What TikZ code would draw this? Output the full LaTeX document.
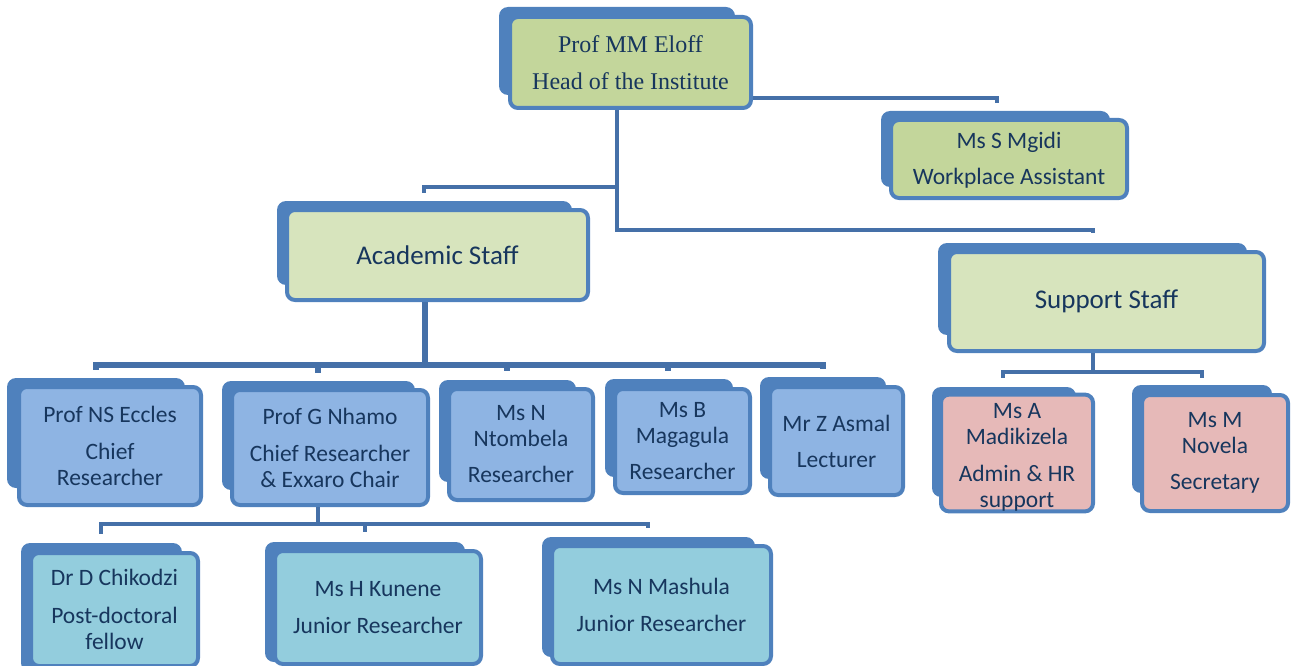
\documentclass[tikz,border=0pt]{standalone}
\usepackage{fontspec}
\setmainfont{Carlito}
\newfontfamily\timesf{Liberation Serif}
\usetikzlibrary{calc}
\definecolor{bord}{HTML}{4F81BD}
\definecolor{conncol}{HTML}{4570A8}
\definecolor{txt}{HTML}{17365D}
\definecolor{gdark}{HTML}{C3D69B}
\definecolor{glight}{HTML}{D7E4BD}
\definecolor{bluef}{HTML}{8EB4E3}
\definecolor{pinkf}{HTML}{E6B9B8}
\definecolor{cyanf}{HTML}{93CDDD}
\tikzset{
  backbox/.style={fill=bord, rounded corners=9pt},
  frontbox/.style={draw=bord, line width=4pt, rounded corners=8pt, align=center,
    text=txt, inner sep=0pt, font=\fontsize{23.5}{26}\selectfont},
  conn/.style={draw=conncol, line width=4pt},
  connthick/.style={draw=conncol, line width=5.5pt}
}
\begin{document}
\begin{tikzpicture}[x=1pt,y=-1pt]
\useasboundingbox (0,0) rectangle (1293,666);
\clip (0,0) rectangle (1293,666);
% back boxes
\fill[backbox] (499,7) rectangle (735,95);
\fill[backbox] (881,111) rectangle (1110,187);
\fill[backbox] (277,201) rectangle (572,285);
\fill[backbox] (938,243) rectangle (1247,335);
\fill[backbox] (7,378) rectangle (185,488);
\fill[backbox] (222,381) rectangle (415,490);
\fill[backbox] (439,380) rectangle (576,482);
\fill[backbox] (605,379) rectangle (733,477);
\fill[backbox] (760,377) rectangle (886,479);
\fill[backbox] (932,387) rectangle (1076,497);
\fill[backbox] (1132,385) rectangle (1272,493);
\fill[backbox] (21,543) rectangle (182,672);
\fill[backbox] (265,542) rectangle (465,662);
\fill[backbox] (542,537) rectangle (755,657);
% front boxes
\node[frontbox, fill=gdark, minimum width=241pt, minimum height=91pt,
  font=\timesf\fontsize{24}{37}\selectfont] (eloff) at (630.5,62.5)
  {Prof MM Eloff\\Head of the Institute};
\node[frontbox, fill=gdark, minimum width=236pt, minimum height=78pt,
  font=\fontsize{23.5}{36}\selectfont, text depth=2pt] (mgidi) at (1009,159)
  {Ms S Mgidi\\Workplace Assistant\vphantom{g}\rule[-6pt]{0pt}{1pt}};
\node[frontbox, fill=glight, minimum width=301pt, minimum height=90pt,
  font=\fontsize{27}{30}\selectfont] (acad) at (437.5,255) {Academic Staff};
\node[frontbox, fill=glight, minimum width=315pt, minimum height=99pt,
  font=\fontsize{27}{30}\selectfont] (supp) at (1106.5,301.5) {Support Staff};
\node[frontbox, fill=bluef, minimum width=182pt, minimum height=118pt] (eccles) at (110,446)
  {Prof NS Eccles\\[11pt]Chief\\Researcher};
\node[frontbox, fill=bluef, minimum width=196pt, minimum height=115pt] (nhamo) at (330,447.5)
  {Prof G Nhamo\\[11pt]Chief Researcher\\\& Exxaro Chair};
\node[frontbox, fill=bluef, minimum width=144pt, minimum height=111pt] (ntombela) at (521,444.5)
  {Ms N\\Ntombela\\[10pt]Researcher};
\node[frontbox, fill=bluef, minimum width=135pt, minimum height=104pt] (magagula) at (682.5,441)
  {Ms B\\Magagula\\[10pt]Researcher};
\node[frontbox, fill=bluef, minimum width=133pt, minimum height=108pt,
  font=\fontsize{23.5}{36}\selectfont] (asmal) at (836.5,441)
  {Mr Z Asmal\\Lecturer};
\node[frontbox, fill=pinkf, minimum width=152pt, minimum height=116pt] (madik) at (1017,453)
  {\rule{0pt}{24pt}Ms A\\Madikizela\\[11pt]Admin \& HR\\support};
\node[frontbox, fill=pinkf, minimum width=146pt, minimum height=116pt] (novela) at (1215,453)
  {Ms M\\Novela\\[10pt]Secretary};
\node[frontbox, fill=cyanf, minimum width=167pt, minimum height=113pt] (chik) at (114.5,609.5)
  {Dr D Chikodzi\\[12pt]Post-doctoral\\fellow};
\node[frontbox, fill=cyanf, minimum width=206pt, minimum height=113pt,
  font=\fontsize{23.5}{37}\selectfont] (kunene) at (378,607.5)
  {Ms H Kunene\\Junior Researcher};
\node[frontbox, fill=cyanf, minimum width=219pt, minimum height=118pt,
  font=\fontsize{23.5}{37}\selectfont] (mashula) at (661.5,605)
  {Ms N Mashula\\Junior Researcher};
% junctions
\coordinate (jt) at (617,187);
\coordinate (jt2) at (617,230);
\coordinate (ja) at (425,365);
\coordinate (js) at (1093,372);
\coordinate (jn) at (318,524);
% connectors
\draw[conn] ([yshift=-35.5pt]eloff.east) -| ([xshift=-12pt,yshift=15pt]mgidi.north);
\draw[conn] (eloff.south -| jt) -- (jt2) -| ([xshift=-13.5pt,yshift=17pt]supp.north);
\draw[conn] (jt) -| ([xshift=-13.5pt,yshift=15pt]acad.north);
\draw[connthick] (acad.south -| ja) -- (ja)
  (ja) -| ([xshift=-14pt,yshift=15pt]eccles.north)
  (ja) -| ([xshift=-12pt,yshift=15pt]nhamo.north)
  (ja) -| ([xshift=-14pt,yshift=16pt]ntombela.north)
  (ja) -| ([xshift=-14.5pt,yshift=16pt]magagula.north)
  (ja) -| ([xshift=-13.5pt,yshift=16pt]asmal.north);
\draw[conn] (supp.south -| js) -- (js)
  (js) -| ([xshift=-14pt,yshift=15pt]madik.north)
  (js) -| ([xshift=-13pt,yshift=15pt]novela.north);
\draw[conn] (nhamo.south -| jn) -- (jn)
  (jn) -| ([xshift=-13.5pt,yshift=17pt]chik.north)
  (jn) -| ([xshift=-13pt,yshift=17pt]kunene.north)
  (jn) -| ([xshift=-13.5pt,yshift=16pt]mashula.north);
\end{tikzpicture}
\end{document}
